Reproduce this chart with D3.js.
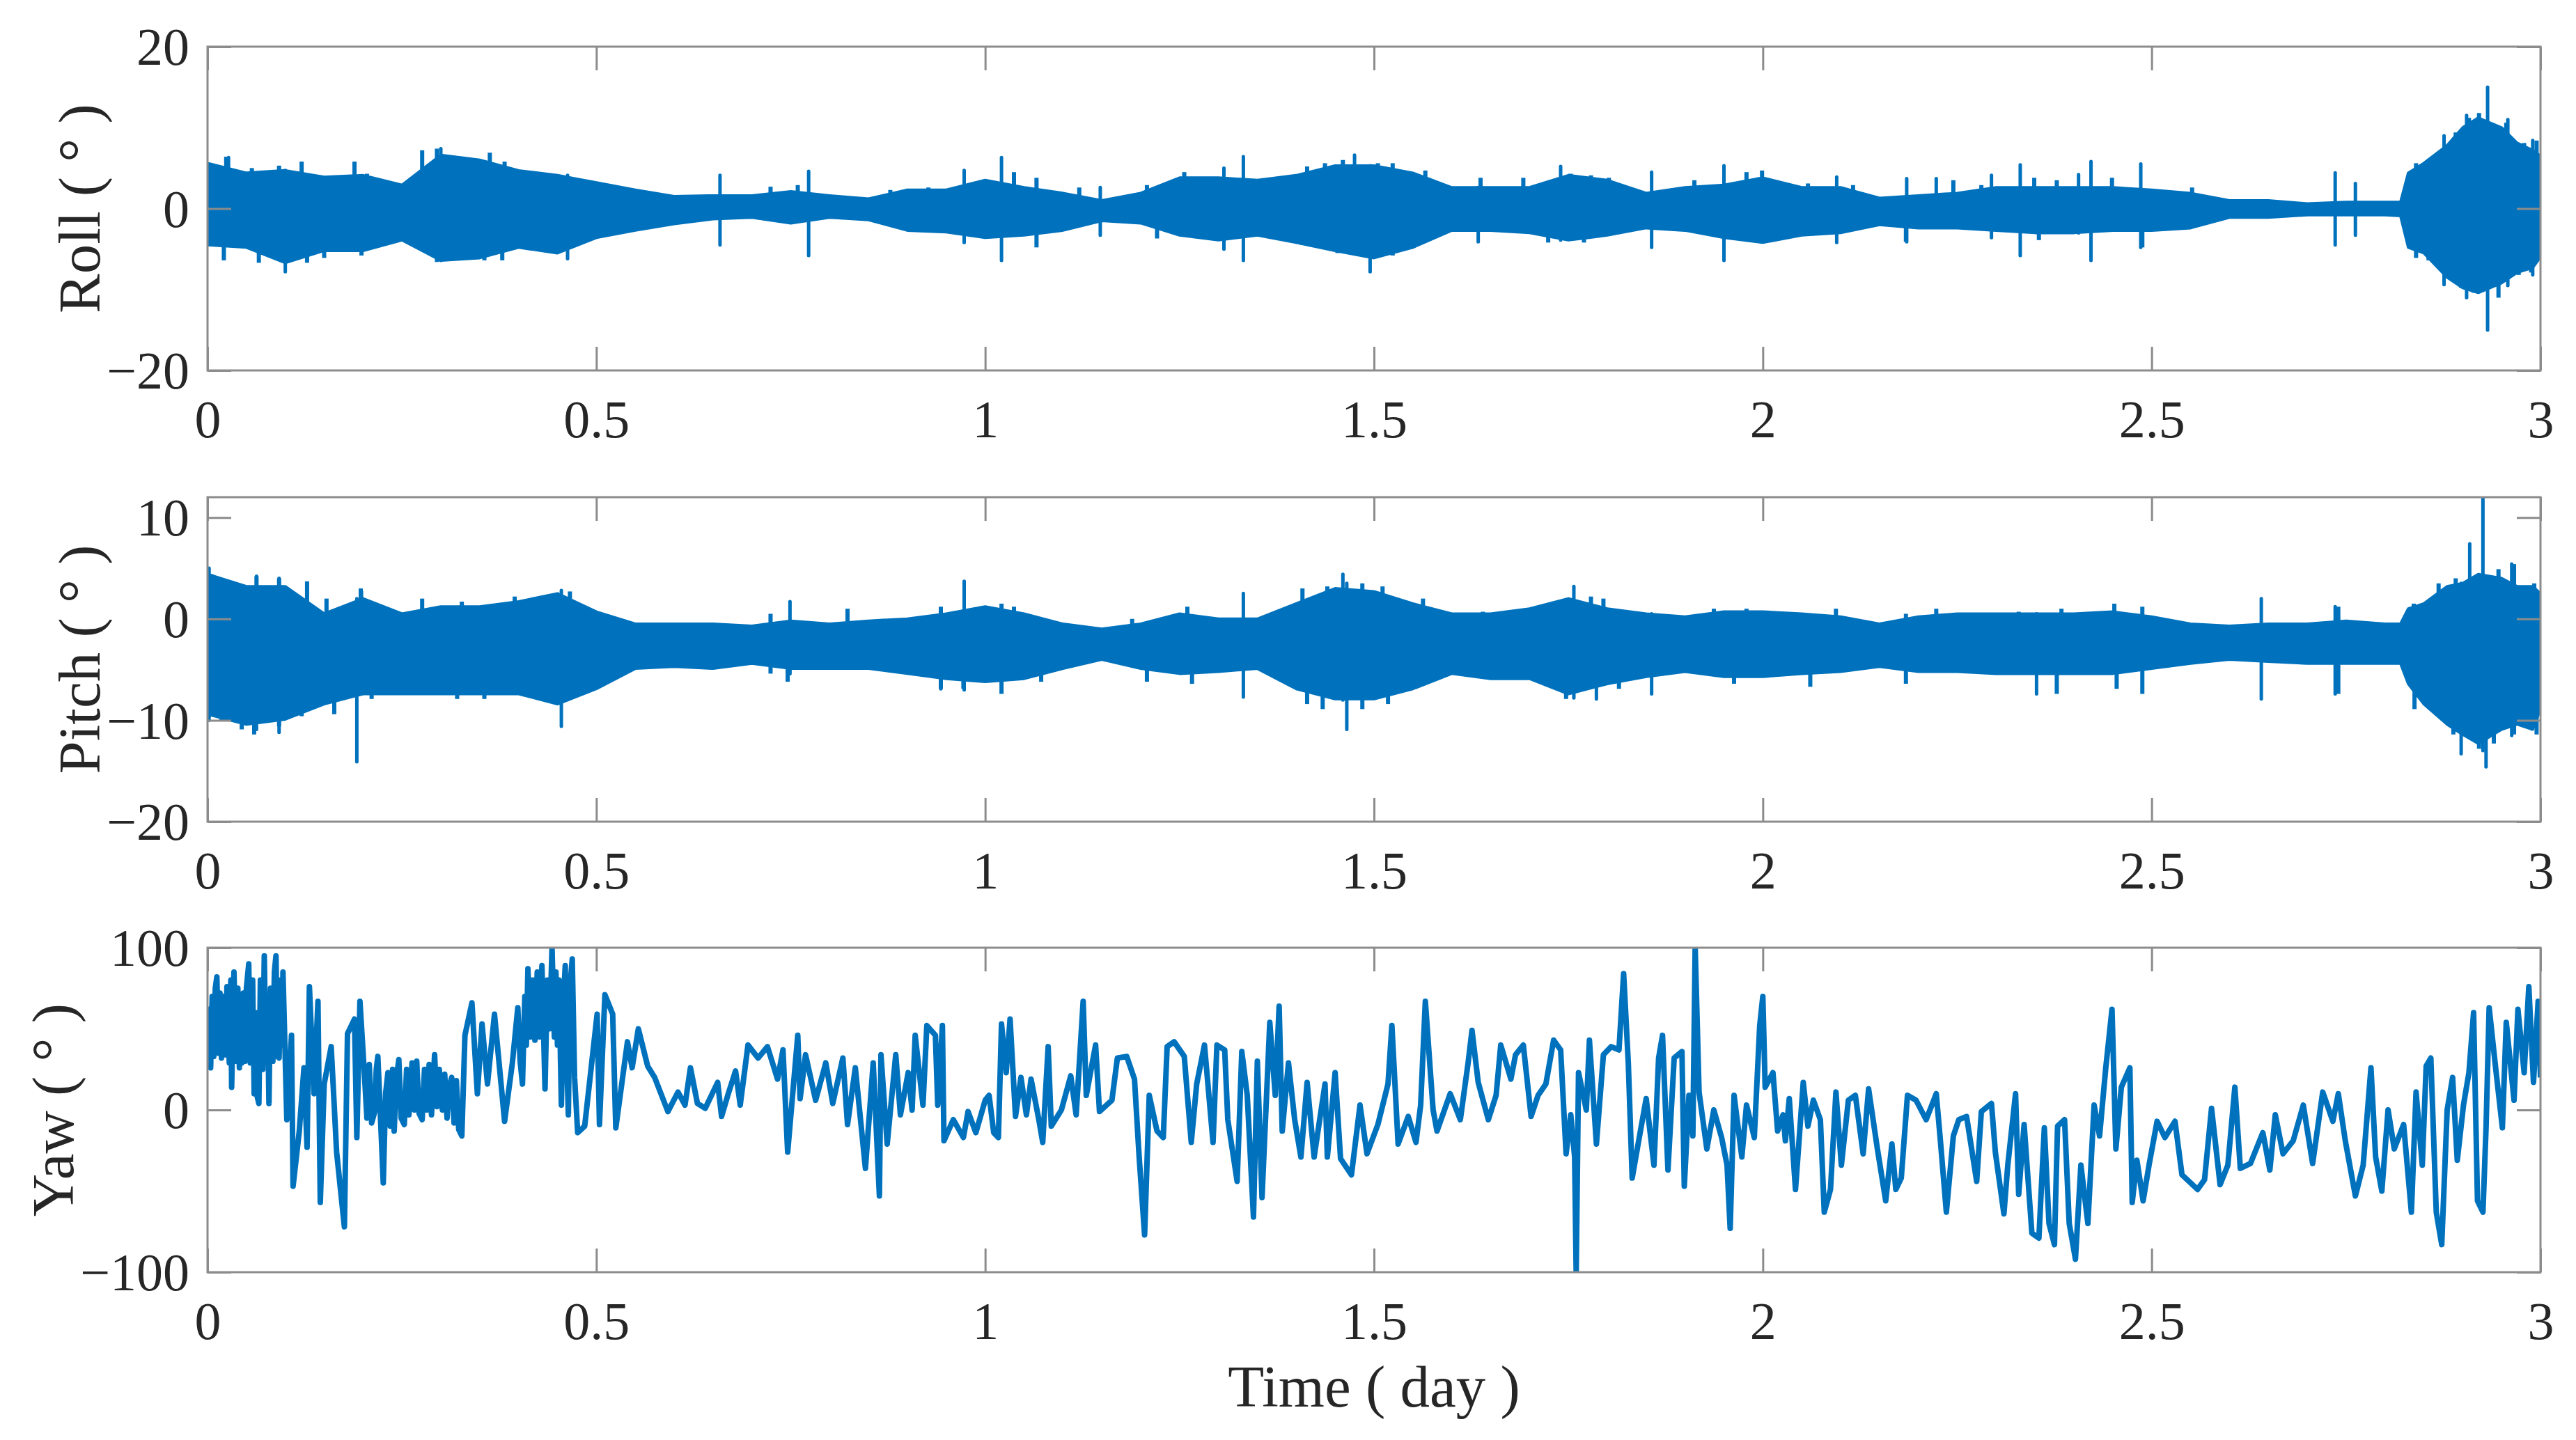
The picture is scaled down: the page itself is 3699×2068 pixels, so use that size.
<!DOCTYPE html>
<html><head><meta charset="utf-8">
<script src="https://cdn.jsdelivr.net/npm/d3@7"></script>
<style>html,body{margin:0;padding:0;background:#fff;} svg{display:block;}</style>
</head><body>
<svg id="chart" width="3699" height="2068"></svg>
<script>
// ---------------- DATA ----------------
const timeTicks = [0, 0.5, 1, 1.5, 2, 2.5, 3];
const timeTickLabels = ["0", "0.5", "1", "1.5", "2", "2.5", "3"];
const rollTicks = [-20, 0, 20];
const pitchTicks = [-20, -10, 0, 10];
const yawTicks = [-100, 0, 100];

// envelope sample times (day)
const bandTime = [0,0.05,0.10,0.15,0.20,0.25,0.30,0.35,0.40,0.45,
  0.50,0.55,0.60,0.65,0.70,0.75,0.80,0.85,0.90,0.95,
  1.00,1.05,1.10,1.15,1.20,1.25,1.30,1.35,1.40,1.45,
  1.50,1.55,1.60,1.65,1.70,1.75,1.80,1.85,1.90,1.95,
  2.00,2.05,2.10,2.15,2.20,2.25,2.30,2.35,2.40,2.45,
  2.50,2.55,2.60,2.65,2.70,2.75,2.80,
  2.82,2.83,2.85,2.88,2.90,2.92,2.95,2.97,2.99,3.00];

const rollHi = [5.6,4.4,4.7,3.9,4.1,2.9,6.6,6.0,4.7,4.1,
  3.2,2.3,1.5,1.6,1.6,2.1,1.6,1.2,2.3,2.3,
  3.5,2.6,1.9,1.0,1.9,3.8,3.8,3.5,4.1,5.3,
  5.3,4.4,2.6,2.6,2.6,4.1,3.5,1.9,2.6,2.9,
  3.8,2.6,2.6,1.3,1.6,1.9,2.6,2.6,2.6,2.6,
  2.3,1.9,1.0,1.0,0.6,0.8,0.8,
  0.8,4.4,5.6,7.8,10.0,11.2,10.0,8.1,7.2,6.5];
const rollLo = [-4.5,-4.8,-6.7,-5.2,-5.2,-3.9,-6.4,-6.1,-4.8,-5.5,
  -3.6,-2.7,-1.9,-1.3,-1.1,-1.8,-1.1,-1.4,-2.7,-2.9,
  -3.6,-3.3,-2.7,-1.5,-1.8,-3.3,-3.9,-3.3,-4.2,-5.2,
  -6.1,-4.8,-2.7,-2.7,-3.0,-3.9,-3.3,-2.4,-2.7,-3.6,
  -4.2,-3.3,-3.0,-2.0,-2.4,-2.4,-2.7,-3.0,-3.0,-2.7,
  -2.7,-2.4,-1.1,-1.1,-0.8,-0.8,-0.8,
  -0.9,-4.8,-5.5,-8.5,-9.8,-10.4,-9.2,-7.9,-7.3,-6.0];

const pitchHi = [4.4,3.2,3.2,0.5,2.0,0.5,1.2,1.2,1.7,2.5,
  0.7,-0.5,-0.5,-0.5,-0.7,-0.2,-0.5,-0.2,0.0,0.5,
  1.2,0.5,-0.5,-1.0,-0.5,0.5,0.0,0.0,1.5,3.0,
  2.7,1.5,0.5,0.5,1.0,2.0,1.0,0.5,0.2,0.7,
  0.7,0.5,0.2,-0.5,0.2,0.5,0.5,0.5,0.5,0.7,
  0.2,-0.5,-0.7,-0.5,-0.5,-0.2,-0.5,
  -0.5,1.0,1.5,3.2,3.5,4.4,4.0,3.2,3.2,2.5];
const pitchLo = [-9.4,-10.4,-9.9,-8.4,-7.4,-7.4,-7.4,-7.4,-7.4,-8.4,
  -6.9,-4.9,-4.7,-4.9,-4.4,-4.9,-4.9,-4.9,-5.4,-5.9,
  -6.2,-5.9,-4.9,-4.0,-4.9,-5.4,-5.2,-4.9,-6.9,-7.9,
  -7.9,-6.9,-5.4,-5.9,-5.9,-7.4,-6.4,-5.7,-5.2,-5.7,
  -5.7,-5.4,-5.2,-4.7,-5.2,-5.2,-5.4,-5.4,-5.4,-5.4,
  -4.9,-4.4,-4.0,-4.2,-4.4,-4.4,-4.4,
  -4.4,-6.4,-8.4,-10.4,-11.4,-12.3,-10.9,-10.4,-10.9,-8.9];

// isolated spikes: time, max, min
const rollSpikeT  = [0.027,0.10,0.30,0.463,0.659,0.773,0.973,1.021,1.148,1.307,1.332,1.475,1.495,1.634,1.74,1.857,1.950,2.095,2.185,2.223,2.294,2.331,2.406,2.422,2.486,2.736,2.762,2.876,2.905,2.932,2.958,2.99];
const rollSpikeHi = [6.3,4.7,7.4,4.1,4.1,4.6,4.7,6.3,2.6,5.0,6.4,6.6,5.3,2.6,5.2,4.5,5.3,3.9,3.7,3.7,4.1,5.4,4.2,5.8,5.5,4.4,3.1,9.0,11.5,15.0,11.0,8.4];
const rollSpikeLo = [-4.5,-7.8,-6.4,-6.2,-4.5,-5.8,-4.2,-6.4,-3.3,-5.0,-6.4,-5.5,-7.8,-4.1,-3.9,-4.8,-6.4,-4.2,-4.1,-2.1,-3.6,-5.8,-3.0,-6.4,-4.8,-4.5,-3.3,-9.4,-11.0,-15.0,-9.5,-8.2];

// small bumps on the upper / lower edge of the roll band
const rollTopT = [0.004,0.024,0.057,0.082,0.092,0.121,0.147,0.189,0.205,0.276,0.295,0.308,0.331,0.363,0.382,0.437,0.724,0.759,0.878,0.927,
  1.037,1.066,1.121,1.208,1.256,1.414,1.437,1.46,1.505,1.524,1.566,1.637,1.692,1.753,1.779,1.802,1.912,1.979,1.999,
  2.058,2.116,2.245,2.281,2.349,2.378,2.449,2.552,2.84,2.862,2.875,2.891,2.908,2.921,2.956,2.979,2.995];
const rollTopV = [5.6,6.4,5.0,4.7,5.3,5.8,3.8,5.8,4.3,7.2,7.4,6.4,6.0,6.9,5.8,4.1,2.7,2.9,2.3,2.6,
  4.5,3.8,2.6,2.9,4.5,5.2,5.6,6.0,5.6,5.6,4.7,3.8,3.8,4.3,4.1,3.8,3.5,4.5,4.7,
  3.1,2.9,3.5,2.9,3.8,3.5,3.8,2.6,5.6,6.4,6.1,9.4,11.2,11.8,10.6,8.1,8.4];
const rollBotT = [0.021,0.066,0.128,0.150,0.198,0.295,0.327,0.356,0.379,
  1.066,1.221,1.408,1.453,1.524,1.724,1.77,
  2.184,2.355,2.488,2.84,2.856,2.875,2.898,2.914,2.946,2.972,2.988];
const rollBotV = [-6.4,-6.7,-6.7,-6.1,-5.8,-6.6,-6.1,-6.4,-6.4,
  -4.8,-3.7,-4.5,-5.5,-5.8,-4.2,-4.2,
  -4.1,-3.9,-4.8,-6.1,-6.4,-7.3,-9.8,-10.4,-11.0,-8.2,-7.9];

const pitchSpikeT  = [0.002,0.063,0.092,0.192,0.198,0.455,0.749,0.943,0.973,1.332,1.46,1.465,1.757,1.786,1.857,2.352,2.641,2.736,2.898,2.909,2.926,2.930,2.963];
const pitchSpikeHi = [5.0,4.2,4.0,2.0,2.7,2.8,1.7,0.5,3.7,2.5,4.4,3.5,3.2,1.0,0.5,0.5,2.0,1.2,3.5,7.4,12.0,4.0,5.4];
const pitchSpikeLo = [-10.0,-10.9,-11.2,-14.1,-7.4,-10.6,-5.4,-6.9,-7.0,-7.7,-8.0,-10.9,-7.8,-7.9,-7.4,-7.4,-7.9,-7.4,-13.3,-11.0,-13.0,-14.6,-11.5];

const pitchTopT = [0.005,0.031,0.063,0.092,0.128,0.153,0.197,0.276,0.327,0.395,0.466,0.724,0.823,0.943,
  1.021,1.037,1.189,1.26,1.408,1.44,1.485,1.511,1.563,1.64,1.779,1.795,1.937,1.979,
  2.094,2.184,2.223,2.329,2.384,2.452,2.488,2.74,2.837,2.869,2.891,2.946,2.966,2.992];
const pitchTopV = [4.4,3.5,4.2,4.0,3.7,2.0,3.0,2.0,1.7,2.2,2.7,0.5,1.0,1.2,
  1.5,1.2,0.0,1.2,3.0,3.2,3.5,3.2,2.0,0.7,2.2,2.0,1.0,1.0,
  1.0,0.5,1.0,0.7,1.0,1.5,1.2,1.2,1.5,3.5,4.0,4.9,5.4,3.5];
const pitchBotT = [0.018,0.044,0.06,0.092,0.121,0.163,0.179,0.211,0.247,0.321,0.356,0.724,0.746,0.943,0.972,
  1.021,1.072,1.208,1.266,1.414,1.434,1.485,1.518,1.747,1.815,1.963,
  2.061,2.184,2.378,2.455,2.488,2.74,2.838,2.888,2.921,2.94,2.966,2.995];
const pitchBotV = [-10.1,-10.9,-11.4,-10.6,-9.6,-9.4,-7.9,-7.9,-7.4,-7.9,-7.9,-5.4,-6.2,-6.9,-6.9,
  -7.4,-6.2,-6.2,-6.4,-8.4,-8.9,-8.9,-8.4,-7.9,-6.9,-6.4,
  -6.7,-6.4,-7.4,-6.9,-7.4,-7.4,-8.9,-11.4,-12.8,-12.3,-11.4,-11.4];

// yaw: [time (day), angle (deg)]
const yawSeries = [
 [0.000,30],[0.002,62],[0.004,26],[0.006,70],[0.008,33],[0.010,75],[0.012,82],[0.014,35],[0.016,72],[0.018,32],
 [0.021,70],[0.023,34],[0.025,76],[0.028,29],[0.030,80],[0.031,14],[0.033,60],[0.034,85],[0.037,30],[0.039,75],
 [0.041,26],[0.043,70],[0.044,29],[0.046,72],[0.048,30],[0.050,75],[0.053,90],[0.055,29],[0.058,80],[0.060,10],
 [0.062,60],[0.064,8],[0.066,4],[0.068,80],[0.071,25],[0.073,95],[0.075,30],[0.077,70],[0.079,4],[0.081,75],
 [0.084,30],[0.086,85],[0.088,95],[0.090,33],[0.092,32],[0.094,80],[0.096,40],[0.097,85],
 [0.102,-6],[0.108,46],[0.110,-47],
 [0.118,-13],[0.124,26],[0.128,-23],[0.131,76],[0.137,10],[0.142,67],[0.145,-57],[0.150,16],[0.159,39],[0.166,-26],
 [0.176,-72],[0.180,47],[0.189,56],[0.192,-17],[0.196,67],[0.202,20],[0.205,-5],[0.208,28],[0.211,-8],[0.215,-1],
 [0.217,25],[0.219,33],[0.222,0],[0.226,-45],[0.229,10],[0.232,23],[0.235,-10],[0.238,25],[0.240,-13],[0.243,20],
 [0.246,31],[0.249,-5],[0.253,-9],[0.256,25],[0.259,-3],[0.263,29],[0.266,0],[0.269,30],[0.272,-2],[0.276,-6],
 [0.279,25],[0.282,0],[0.285,28],[0.288,-3],[0.292,34],[0.295,2],[0.298,25],[0.302,0],[0.305,22],[0.308,-5],
 [0.311,15],[0.314,20],[0.317,-8],[0.320,18],[0.323,-12],[0.327,-16],[0.331,46],
 [0.340,66],[0.347,10],[0.353,53],[0.360,16],[0.369,59],[0.382,-7],[0.392,29],[0.399,63],[0.402,30],[0.405,16],
 [0.408,70],[0.410,40],[0.412,87],[0.415,45],[0.418,80],[0.421,43],[0.424,85],[0.427,45],[0.430,89],[0.434,13],
 [0.437,80],[0.440,50],[0.443,100],[0.446,45],[0.448,85],[0.450,40],[0.452,80],[0.455,3],[0.458,70],[0.460,89],
 [0.462,30],[0.464,-3],[0.466,75],[0.469,93],[0.472,20],[0.476,-14],
 [0.485,-10],[0.501,59],[0.504,-9],[0.511,71],[0.521,59],[0.525,-11],[0.540,42],[0.546,26],[0.554,50],[0.566,27],
 [0.575,20],[0.592,-1],[0.605,11],[0.614,3],[0.621,26],[0.630,4],[0.640,1],[0.656,17],[0.661,-4],[0.669,9],
 [0.679,24],[0.685,3],[0.695,40],[0.708,32],[0.720,39],[0.733,19],[0.740,37],[0.746,-26],[0.759,46],[0.762,7],
 [0.769,34],[0.782,6],[0.795,29],[0.804,4],[0.817,32],[0.823,-9],[0.833,26],[0.846,-36],[0.856,29],[0.864,-53],
 [0.866,34],[0.874,-21],[0.885,34],[0.891,-3],[0.901,23],[0.906,0],[0.910,46],[0.920,3],[0.925,52],[0.936,46],
 [0.939,3],[0.945,52],[0.947,-19],[0.959,-6],[0.972,-17],[0.978,-1],[0.988,-14],[1.000,6],
 [1.005,9],[1.011,-14],[1.017,-17],[1.021,53],[1.027,23],[1.032,56],[1.039,-4],[1.046,20],[1.053,-3],[1.059,19],
 [1.069,-6],[1.074,-20],[1.081,39],[1.085,-10],[1.098,0],[1.110,21],[1.117,-3],[1.126,67],[1.130,9],[1.142,40],
 [1.147,-1],[1.163,6],[1.170,32],[1.182,33],[1.192,19],[1.198,-29],[1.205,-77],[1.211,9],[1.221,-13],[1.229,-17],
 [1.234,39],[1.243,42],[1.256,33],[1.265,-20],[1.272,16],[1.282,40],[1.293,-20],[1.298,40],[1.308,37],[1.312,-6],
 [1.324,-44],[1.330,36],[1.337,9],[1.345,-66],[1.350,30],[1.356,-54],[1.366,54],[1.373,9],[1.378,64],[1.382,-13],
 [1.390,29],[1.398,-6],[1.406,-29],[1.414,17],[1.423,-29],[1.437,16],[1.440,-29],[1.450,23],[1.457,-30],[1.471,-40],
 [1.482,3],[1.491,-27],[1.505,-9],[1.518,16],[1.523,52],[1.531,-21],[1.544,-4],[1.554,-20],[1.560,3],[1.566,67],
 [1.576,0],[1.581,-13],[1.598,10],[1.611,-6],[1.621,29],[1.626,49],[1.634,17],[1.647,-6],[1.657,9],[1.663,40],
 [1.676,19],[1.682,34],[1.692,40],[1.702,-4],[1.711,9],[1.721,16],[1.731,43],[1.740,37],[1.747,-27],[1.753,-3],
 [1.758,-29],[1.760,-100],[1.763,23],[1.773,0],[1.777,43],[1.786,-21],[1.795,34],[1.805,39],[1.815,37],[1.821,84],
 [1.827,29],[1.832,-42],[1.840,-20],[1.850,7],[1.860,-34],[1.866,32],[1.871,46],[1.878,-37],[1.886,32],[1.896,36],
 [1.899,-47],[1.905,9],[1.910,-16],[1.913,100],[1.918,11],[1.928,-24],[1.937,0],[1.947,-17],[1.954,-34],[1.958,-73],
 [1.963,9],[1.973,-29],[1.979,3],[1.989,-17],[1.996,52],[2.000,70],
 [2.003,14],[2.013,23],[2.019,-13],[2.026,-3],[2.029,-19],[2.034,7],[2.042,-49],[2.052,17],[2.058,-10],[2.065,6],
 [2.074,-6],[2.079,-63],[2.087,-49],[2.094,11],[2.101,-34],[2.110,6],[2.119,9],[2.129,-27],[2.136,13],[2.147,-23],
 [2.158,-56],[2.166,-21],[2.171,-49],[2.178,-42],[2.186,9],[2.197,6],[2.210,-6],[2.223,10],[2.228,-17],[2.236,-63],
 [2.245,-16],[2.252,-6],[2.262,-4],[2.275,-44],[2.281,-1],[2.294,4],[2.299,-26],[2.310,-64],[2.315,-34],[2.325,10],
 [2.329,-52],[2.336,-9],[2.346,-76],[2.355,-79],[2.362,-11],[2.368,-70],[2.375,-83],[2.379,-10],[2.388,-6],[2.394,-70],
 [2.402,-92],[2.409,-34],[2.418,-70],[2.426,3],[2.433,-16],[2.441,26],[2.449,62],[2.454,-24],[2.461,14],[2.472,26],
 [2.475,-57],[2.481,-31],[2.489,-56],[2.497,-33],[2.507,-7],[2.517,-17],[2.530,-7],[2.539,-40],[2.559,-49],[2.568,-43],
 [2.577,1],[2.588,-46],[2.598,-34],[2.607,14],[2.614,-36],[2.627,-33],[2.643,-14],[2.652,-37],[2.659,-3],[2.669,-27],
 [2.682,-19],[2.695,3],[2.707,-33],[2.720,11],[2.733,-7],[2.740,10],[2.749,-19],[2.762,-53],[2.772,-34],[2.782,26],
 [2.788,-29],[2.796,-50],[2.804,0],[2.812,-24],[2.824,-9],[2.834,-63],[2.840,11],[2.848,-34],[2.853,27],[2.859,32],
 [2.866,-63],[2.873,-83],[2.880,0],[2.887,20],[2.893,-31],[2.901,3],[2.908,23],[2.914,60],[2.919,-56],[2.926,-63],
 [2.930,-11],[2.934,63],[2.943,23],[2.951,-11],[2.956,54],[2.966,6],[2.971,62],[2.979,23],[2.985,76],[2.991,17],
 [2.997,67],[3.000,20]
];

// ---------------- DRAWING ----------------
const COLOR = "#0072BD";
const AXIS = "#8c8c8c";
const TEXT = "#262626";
const FONT = "'Liberation Serif','Times New Roman',Times,serif";

const svg = d3.select("#chart");
svg.append("rect").attr("width", 3699).attr("height", 2068).attr("fill", "#fff");

const x = d3.scaleLinear().domain([0, 3]).range([298, 3648]);

const panels = [
  {id: "roll", name: "Roll", top: 67, bottom: 532, domain: [-20, 20], ticks: rollTicks, labelX: 143,
   hi: rollHi, lo: rollLo, sT: rollSpikeT, sHi: rollSpikeHi, sLo: rollSpikeLo,
   topT: rollTopT, topV: rollTopV, botT: rollBotT, botV: rollBotV, mid: 0},
  {id: "pitch", name: "Pitch", top: 714, bottom: 1180, domain: [-20, 12], ticks: pitchTicks, labelX: 143,
   hi: pitchHi, lo: pitchLo, sT: pitchSpikeT, sHi: pitchSpikeHi, sLo: pitchSpikeLo,
   topT: pitchTopT, topV: pitchTopV, botT: pitchBotT, botV: pitchBotV, mid: -2.5},
  {id: "yaw", name: "Yaw", top: 1361, bottom: 1827, domain: [-100, 100], ticks: yawTicks, labelX: 105}
];

const defs = svg.append("defs");
const TICK = 34;

panels.forEach(p => {
  const y = d3.scaleLinear().domain(p.domain).range([p.bottom, p.top]);
  defs.append("clipPath").attr("id", "clip-" + p.id)
    .append("rect").attr("x", x.range()[0]).attr("y", p.top)
    .attr("width", x.range()[1] - x.range()[0]).attr("height", p.bottom - p.top);

  const g = svg.append("g").attr("clip-path", `url(#clip-${p.id})`);

  if (p.hi) {
    const band = bandTime.map((t, i) => ({t, hi: p.hi[i], lo: p.lo[i]}));
    const area = d3.area().x(d => x(d.t)).y0(d => y(d.lo)).y1(d => y(d.hi));
    g.append("path").datum(band).attr("d", area)
      .attr("fill", COLOR).attr("stroke", COLOR).attr("stroke-width", 4).attr("stroke-linejoin", "round");
    const bumps = p.topT.map((t, i) => ({t, a: p.mid, b: p.topV[i]}))
      .concat(p.botT.map((t, i) => ({t, a: p.mid, b: p.botV[i]})));
    g.selectAll("line.bump").data(bumps).join("line").attr("class", "bump")
      .attr("x1", d => x(d.t)).attr("x2", d => x(d.t))
      .attr("y1", d => y(d.a)).attr("y2", d => y(d.b))
      .attr("stroke", COLOR).attr("stroke-width", 6);
    const spikes = p.sT.map((t, i) => ({t, hi: p.sHi[i], lo: p.sLo[i]}));
    g.selectAll("line.spike").data(spikes).join("line").attr("class", "spike")
      .attr("x1", d => x(d.t)).attr("x2", d => x(d.t))
      .attr("y1", d => y(d.lo)).attr("y2", d => y(d.hi))
      .attr("stroke", COLOR).attr("stroke-width", 5).attr("stroke-linecap", "round");
  } else {
    const line = d3.line().x(d => x(d[0])).y(d => y(d[1]));
    g.append("path").datum(yawSeries).attr("d", line)
      .attr("fill", "none").attr("stroke", COLOR).attr("stroke-width", 8)
      .attr("stroke-linejoin", "round");
  }

  // axes (ticks inward on all sides)
  const styleAxis = sel => {
    sel.select(".domain").remove();
    sel.selectAll(".tick line").attr("stroke", AXIS).attr("stroke-width", 3);
    sel.selectAll(".tick text").attr("fill", TEXT).style("font-family", FONT).style("font-size", "76px");
  };
  svg.append("g").attr("transform", `translate(0,${p.bottom})`)
    .call(d3.axisBottom(x).tickValues(timeTicks).tickFormat((d, i) => timeTickLabels[i])
      .tickSizeInner(-TICK).tickSizeOuter(0).tickPadding(42))
    .call(styleAxis);
  svg.append("g").attr("transform", `translate(0,${p.top})`)
    .call(d3.axisTop(x).tickValues(timeTicks).tickFormat("").tickSizeInner(-TICK).tickSizeOuter(0))
    .call(styleAxis);
  svg.append("g").attr("transform", `translate(${x.range()[0]},0)`)
    .call(d3.axisLeft(y).tickValues(p.ticks).tickFormat(d3.format("d"))
      .tickSizeInner(-TICK).tickSizeOuter(0).tickPadding(26))
    .call(styleAxis)
    .call(s => s.selectAll(".tick text").attr("dy", "0.34em"));
  svg.append("g").attr("transform", `translate(${x.range()[1]},0)`)
    .call(d3.axisRight(y).tickValues(p.ticks).tickFormat("").tickSizeInner(-TICK).tickSizeOuter(0))
    .call(styleAxis);

  // frame
  svg.append("rect").attr("x", x.range()[0]).attr("y", p.top)
    .attr("width", x.range()[1] - x.range()[0]).attr("height", p.bottom - p.top)
    .attr("fill", "none").attr("stroke", AXIS).attr("stroke-width", 3);

  // y label
  svg.append("text")
    .attr("transform", `translate(${p.labelX},${(p.top + p.bottom) / 2}) rotate(-90)`)
    .attr("text-anchor", "middle").attr("fill", TEXT)
    .style("font-family", FONT).style("font-size", "85px")
    .text(p.name + " ( \u00B0 )");
});

svg.append("text").attr("x", (x.range()[0] + x.range()[1]) / 2).attr("y", 2020)
  .attr("text-anchor", "middle").attr("fill", TEXT)
  .style("font-family", FONT).style("font-size", "85px")
  .text("Time ( day )");
</script>
</body></html>
